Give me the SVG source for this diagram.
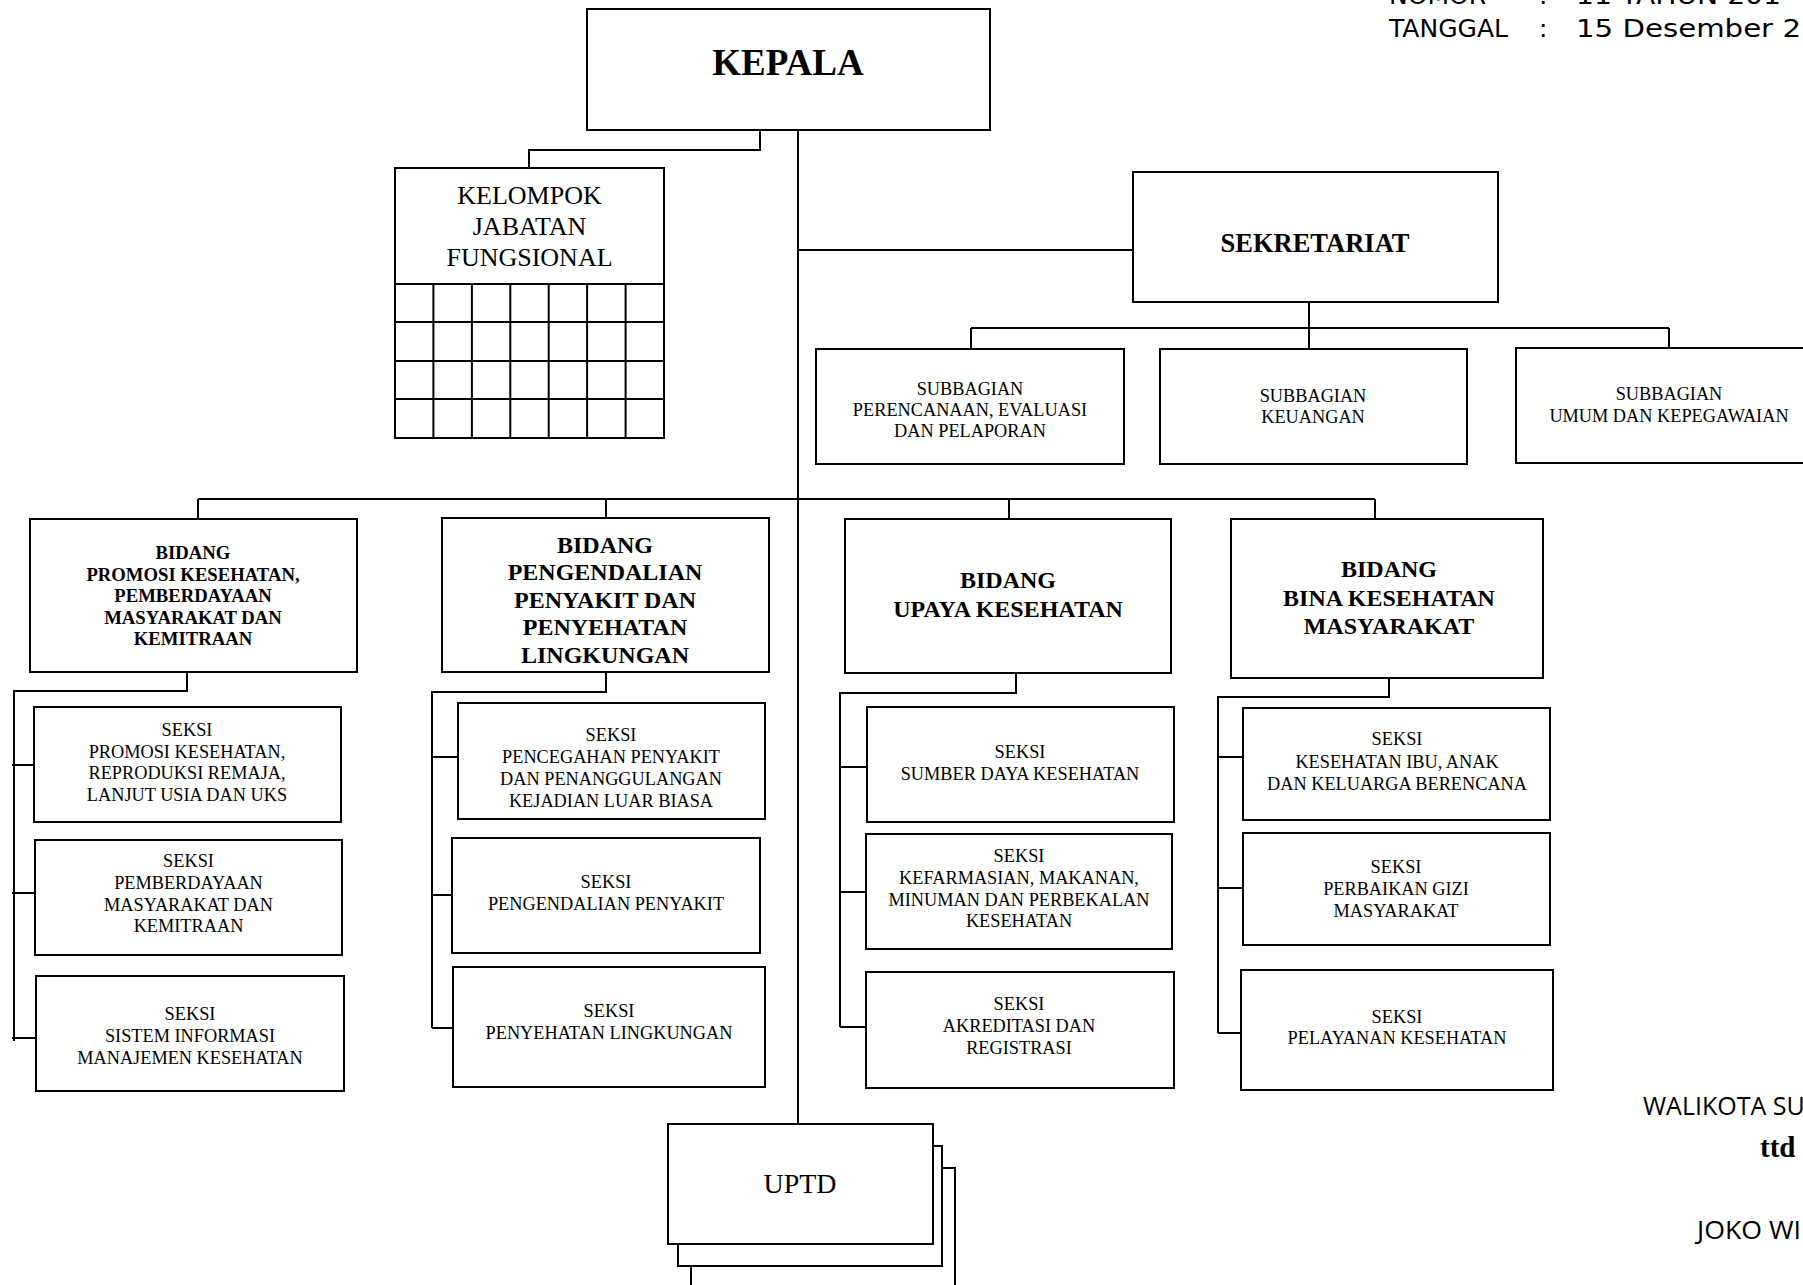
<svg xmlns="http://www.w3.org/2000/svg" width="1803" height="1285" viewBox="0 0 1803 1285">
  <style>
    .box { fill: #fff; stroke: #000; stroke-width: 2; }
    .ln { fill: none; stroke: #000; stroke-width: 2; }
    text { fill: #000; font-family: "Liberation Serif", "Times New Roman", serif; text-anchor: middle; }
    .kepala { font-size: 37px; font-weight: bold; }
    .kjf { font-size: 26px; }
    .sek { font-size: 26.5px; font-weight: bold; }
    .sm { font-size: 18.3px; }
    .b1 { font-size: 18.7px; font-weight: bold; }
    .b2 { font-size: 24px; font-weight: bold; }
    .uptd { font-size: 28px; }
    .hdr { font-family: "DejaVu Sans", Verdana, sans-serif; font-size: 25px; text-anchor: start; }
    .sig { font-family: "Open Sans", "Liberation Sans", sans-serif; font-size: 25px; text-anchor: start; }
    .ttd { font-size: 29px; font-weight: bold; text-anchor: start; }
  </style>

  <rect width="1803" height="1285" fill="#fff"/>

  <!-- decree reference lines (top right) -->
  <g id="header">
    <text class="hdr" x="1389" y="4">NOMOR</text>
    <text class="hdr" x="1539" y="4">:</text>
    <text class="hdr" x="1576" y="4" textLength="205" lengthAdjust="spacingAndGlyphs">11 TAHUN 201</text>
    <text class="hdr" x="1389" y="37">TANGGAL</text>
    <text class="hdr" x="1539" y="37">:</text>
    <text class="hdr" x="1576" y="37" textLength="225" lengthAdjust="spacingAndGlyphs">15 Desember 2</text>
  </g>

  <!-- connectors -->
  <g id="connectors" class="ln">
    <!-- main trunk -->
    <path class="ln" d="M798 130 V1124"/>
    <!-- kepala to functional group -->
    <path class="ln" d="M760 130 V150 H529 V168"/>
    <!-- trunk to sekretariat -->
    <path class="ln" d="M798 250 H1133"/>
    <!-- sekretariat to subbagian -->
    <path class="ln" d="M1309 302 V328 M971 328 H1669 M971 328 V349 M1309 328 V349 M1669 328 V348"/>
    <!-- bidang bus -->
    <path class="ln" d="M198 499 H1375 M198 499 V519 M606 499 V519 M1009 499 V519 M1375 499 V519"/>
    <!-- bidang 1 seksi -->
    <path class="ln" d="M187 672 V691 H14 V1041 M12 765 H34 M12 893 H35 M12 1038 H36"/>
    <!-- bidang 2 seksi -->
    <path class="ln" d="M606 672 V692 H432 V1028 M432 757 H458 M432 895 H452 M432 1028 H453"/>
    <!-- bidang 3 seksi -->
    <path class="ln" d="M1016 673 V693 H840 V1027 M840 767 H867 M840 892 H866 M840 1027 H866"/>
    <!-- bidang 4 seksi -->
    <path class="ln" d="M1389 678 V697 H1218 V1033 M1218 757 H1243 M1218 888 H1243 M1218 1033 H1241"/>
  </g>

  <g id="kepala">
    <rect class="box" x="587" y="9" width="403" height="121"/>
    <text class="kepala" x="788" y="75">KEPALA</text>
  </g>

  <g id="kelompok-jabatan-fungsional">
    <rect class="box" x="395" y="168" width="269" height="270"/>
    <text class="kjf" x="529.5" y="204">KELOMPOK</text>
    <text class="kjf" x="529.5" y="235">JABATAN</text>
    <text class="kjf" x="529.5" y="266">FUNGSIONAL</text>
    <path class="ln" d="M395 284 H664 M395 322 H664 M395 361 H664 M395 399 H664
      M433.4 284 V438 M471.9 284 V438 M510.3 284 V438 M548.7 284 V438 M587.1 284 V438 M625.6 284 V438"/>
  </g>

  <g id="sekretariat">
    <rect class="box" x="1133" y="172" width="365" height="130"/>
    <text class="sek" x="1315" y="252">SEKRETARIAT</text>
  </g>

  <g id="subbagian-perencanaan">
    <rect class="box" x="816" y="349" width="308" height="115"/>
    <text class="sm" x="970" y="395">SUBBAGIAN</text>
    <text class="sm" x="970" y="416">PERENCANAAN, EVALUASI</text>
    <text class="sm" x="970" y="437">DAN PELAPORAN</text>
  </g>

  <g id="subbagian-keuangan">
    <rect class="box" x="1160" y="349" width="307" height="115"/>
    <text class="sm" x="1313" y="402">SUBBAGIAN</text>
    <text class="sm" x="1313" y="423">KEUANGAN</text>
  </g>

  <g id="subbagian-umum">
    <rect class="box" x="1516" y="348" width="306" height="115"/>
    <text class="sm" x="1669" y="400">SUBBAGIAN</text>
    <text class="sm" x="1669" y="422">UMUM DAN KEPEGAWAIAN</text>
  </g>

  <g id="bidang-promosi">
    <rect class="box" x="30" y="519" width="327" height="153"/>
    <text class="b1" x="193" y="559">BIDANG</text>
    <text class="b1" x="193" y="580.5">PROMOSI KESEHATAN,</text>
    <text class="b1" x="193" y="602">PEMBERDAYAAN</text>
    <text class="b1" x="193" y="623.5">MASYARAKAT DAN</text>
    <text class="b1" x="193" y="645">KEMITRAAN</text>
  </g>

  <g id="bidang-pengendalian">
    <rect class="box" x="442" y="518" width="327" height="154"/>
    <text class="b2" x="605" y="553">BIDANG</text>
    <text class="b2" x="605" y="580.4">PENGENDALIAN</text>
    <text class="b2" x="605" y="607.8">PENYAKIT DAN</text>
    <text class="b2" x="605" y="635.2">PENYEHATAN</text>
    <text class="b2" x="605" y="662.6">LINGKUNGAN</text>
  </g>

  <g id="bidang-upaya">
    <rect class="box" x="845" y="519" width="326" height="154"/>
    <text class="b2" x="1008" y="588">BIDANG</text>
    <text class="b2" x="1008" y="617">UPAYA KESEHATAN</text>
  </g>

  <g id="bidang-bina">
    <rect class="box" x="1231" y="519" width="312" height="159"/>
    <text class="b2" x="1389" y="577">BIDANG</text>
    <text class="b2" x="1389" y="605.5">BINA KESEHATAN</text>
    <text class="b2" x="1389" y="634">MASYARAKAT</text>
  </g>

  <!-- seksi under bidang promosi -->
  <g id="seksi-promosi">
    <rect class="box" x="34" y="707" width="307" height="115"/>
    <text class="sm" x="187" y="736">SEKSI</text>
    <text class="sm" x="187" y="757.5">PROMOSI KESEHATAN,</text>
    <text class="sm" x="187" y="779">REPRODUKSI REMAJA,</text>
    <text class="sm" x="187" y="800.5">LANJUT USIA DAN UKS</text>
  </g>
  <g id="seksi-pemberdayaan">
    <rect class="box" x="35" y="840" width="307" height="115"/>
    <text class="sm" x="188.5" y="867">SEKSI</text>
    <text class="sm" x="188.5" y="889">PEMBERDAYAAN</text>
    <text class="sm" x="188.5" y="911">MASYARAKAT DAN</text>
    <text class="sm" x="188.5" y="932">KEMITRAAN</text>
  </g>
  <g id="seksi-sistem-informasi">
    <rect class="box" x="36" y="976" width="308" height="115"/>
    <text class="sm" x="190" y="1019.5">SEKSI</text>
    <text class="sm" x="190" y="1041.5">SISTEM INFORMASI</text>
    <text class="sm" x="190" y="1063.5">MANAJEMEN KESEHATAN</text>
  </g>

  <!-- seksi under bidang pengendalian -->
  <g id="seksi-pencegahan">
    <rect class="box" x="458" y="703" width="307" height="116"/>
    <text class="sm" x="611" y="741">SEKSI</text>
    <text class="sm" x="611" y="763">PENCEGAHAN PENYAKIT</text>
    <text class="sm" x="611" y="785">DAN PENANGGULANGAN</text>
    <text class="sm" x="611" y="807">KEJADIAN LUAR BIASA</text>
  </g>
  <g id="seksi-pengendalian">
    <rect class="box" x="452" y="838" width="308" height="115"/>
    <text class="sm" x="606" y="888">SEKSI</text>
    <text class="sm" x="606" y="910">PENGENDALIAN PENYAKIT</text>
  </g>
  <g id="seksi-penyehatan">
    <rect class="box" x="453" y="967" width="312" height="120"/>
    <text class="sm" x="609" y="1017">SEKSI</text>
    <text class="sm" x="609" y="1039">PENYEHATAN LINGKUNGAN</text>
  </g>

  <!-- seksi under bidang upaya -->
  <g id="seksi-sumber-daya">
    <rect class="box" x="867" y="707" width="307" height="115"/>
    <text class="sm" x="1020" y="757.5">SEKSI</text>
    <text class="sm" x="1020" y="779.5">SUMBER DAYA KESEHATAN</text>
  </g>
  <g id="seksi-kefarmasian">
    <rect class="box" x="866" y="834" width="306" height="115"/>
    <text class="sm" x="1019" y="862">SEKSI</text>
    <text class="sm" x="1019" y="884">KEFARMASIAN, MAKANAN,</text>
    <text class="sm" x="1019" y="905.5">MINUMAN DAN PERBEKALAN</text>
    <text class="sm" x="1019" y="927">KESEHATAN</text>
  </g>
  <g id="seksi-akreditasi">
    <rect class="box" x="866" y="972" width="308" height="116"/>
    <text class="sm" x="1019" y="1010">SEKSI</text>
    <text class="sm" x="1019" y="1032">AKREDITASI DAN</text>
    <text class="sm" x="1019" y="1054">REGISTRASI</text>
  </g>

  <!-- seksi under bidang bina -->
  <g id="seksi-kesehatan-ibu">
    <rect class="box" x="1243" y="708" width="307" height="112"/>
    <text class="sm" x="1397" y="745">SEKSI</text>
    <text class="sm" x="1397" y="768">KESEHATAN IBU, ANAK</text>
    <text class="sm" x="1397" y="790">DAN KELUARGA BERENCANA</text>
  </g>
  <g id="seksi-gizi">
    <rect class="box" x="1243" y="833" width="307" height="112"/>
    <text class="sm" x="1396" y="873">SEKSI</text>
    <text class="sm" x="1396" y="895">PERBAIKAN GIZI</text>
    <text class="sm" x="1396" y="917">MASYARAKAT</text>
  </g>
  <g id="seksi-pelayanan">
    <rect class="box" x="1241" y="970" width="312" height="120"/>
    <text class="sm" x="1397" y="1023">SEKSI</text>
    <text class="sm" x="1397" y="1044">PELAYANAN KESEHATAN</text>
  </g>

  <!-- stacked UPTD units -->
  <g id="uptd">
    <rect class="box" x="691" y="1168" width="264" height="140"/>
    <rect class="box" x="678" y="1146" width="264" height="120"/>
    <rect class="box" x="668" y="1124" width="265" height="120"/>
    <text class="uptd" x="800" y="1193">UPTD</text>
  </g>

  <!-- signature block -->
  <g id="signature">
    <text class="sig" x="1643" y="1115">WALIKOTA SU</text>
    <text class="ttd" x="1760" y="1157">ttd</text>
    <text class="sig" x="1697" y="1239" textLength="104" lengthAdjust="spacingAndGlyphs">JOKO WI</text>
  </g>
</svg>
